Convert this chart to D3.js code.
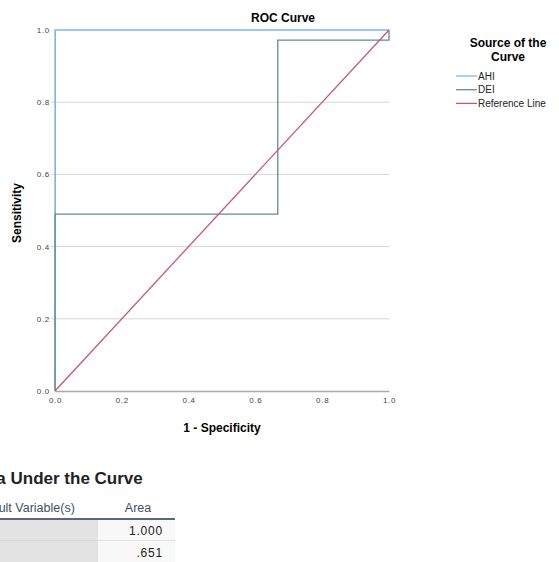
<!DOCTYPE html>
<html>
<head>
<meta charset="utf-8">
<script src="https://cdn.jsdelivr.net/npm/d3@7"></script>
<style>
  body { margin: 0; background: #fff; }
  svg { font-family: "Liberation Sans", Arial, sans-serif; display: block; }
</style>
</head>
<body>
<svg id="chart" width="559" height="562"></svg>
<script>
// ROC curve data
const ahiPoints = [[0, 0], [0, 1], [1, 1]];
const deiPoints = [[0, 0], [0, 0.49], [0.667, 0.49], [0.667, 0.972], [1, 0.972], [1, 1]];
const refPoints = [[0, 0], [1, 1]];
const seriesNames = ['AHI', 'DEI', 'Reference Line'];
const seriesColors = ['#7ab8ea', '#5f8f8c', '#c8567c'];
const xTicks = [0, 0.2, 0.4, 0.6, 0.8, 1.0];
const yTicks = [0, 0.2, 0.4, 0.6, 0.8, 1.0];
// area table
const tableVars = ['AHI', 'DEI'];
const tableAreas = ['1.000', '.651'];

const svg = d3.select('#chart');
const margin = { top: 30, left: 55 };
const width = 334;
const height = 361;
const x = d3.scaleLinear().domain([0, 1]).range([0, width]);
const y = d3.scaleLinear().domain([0, 1]).range([height, 0]);
const g = svg.append('g').attr('transform', `translate(${margin.left},${margin.top})`);

// gridlines
g.append('g')
  .selectAll('line')
  .data(yTicks.filter(d => d > 0 && d < 1))
  .enter()
  .append('line')
  .attr('x1', -4)
  .attr('x2', width)
  .attr('y1', d => y(d))
  .attr('y2', d => y(d))
  .attr('stroke', '#d6d6d6')
  .attr('stroke-width', 1);

// axes
const xAxis = g.append('g')
  .attr('transform', `translate(0,${height})`)
  .call(d3.axisBottom(x).tickValues(xTicks).tickFormat(d3.format('.1f')).tickSize(0).tickPadding(6));
xAxis.select('.domain').attr('stroke', '#a8a8a8').attr('stroke-width', 1.5);
xAxis.selectAll('text').attr('font-size', 8).attr('fill', '#444').attr('letter-spacing', 0.7);

const yAxis = g.append('g')
  .call(d3.axisLeft(y).tickValues(yTicks).tickFormat(d3.format('.1f')).tickSize(0).tickPadding(5));
yAxis.select('.domain').attr('stroke', '#a8a8a8');
yAxis.selectAll('text').attr('font-size', 8).attr('fill', '#444').attr('letter-spacing', 0.7);

// curves
const line = d3.line().x(d => x(d[0])).y(d => y(d[1]));
const series = [ahiPoints, deiPoints, refPoints];
g.append('g')
  .selectAll('path')
  .data(series)
  .enter()
  .append('path')
  .attr('d', line)
  .attr('fill', 'none')
  .attr('stroke', (d, i) => seriesColors[i])
  .attr('stroke-width', 1.3);

// titles
svg.append('text')
  .attr('x', 283).attr('y', 22)
  .attr('text-anchor', 'middle')
  .attr('font-size', 12).attr('font-weight', 'bold')
  .text('ROC Curve');

svg.append('text')
  .attr('x', margin.left + width / 2).attr('y', 432)
  .attr('text-anchor', 'middle')
  .attr('font-size', 12).attr('font-weight', 'bold')
  .text('1 - Specificity');

svg.append('text')
  .attr('transform', 'translate(21,213) rotate(-90)')
  .attr('text-anchor', 'middle')
  .attr('font-size', 12).attr('font-weight', 'bold')
  .text('Sensitivity');

// legend
const legend = svg.append('g');
legend.append('text')
  .attr('x', 508).attr('y', 47)
  .attr('text-anchor', 'middle')
  .attr('font-size', 12).attr('font-weight', 'bold')
  .text('Source of the');
legend.append('text')
  .attr('x', 508).attr('y', 61)
  .attr('text-anchor', 'middle')
  .attr('font-size', 12).attr('font-weight', 'bold')
  .text('Curve');
const items = legend.selectAll('g.item')
  .data(seriesNames)
  .enter()
  .append('g')
  .attr('class', 'item')
  .attr('transform', (d, i) => `translate(456,${76 + i * 13.7})`);
items.append('line')
  .attr('x1', 0).attr('x2', 21)
  .attr('stroke', (d, i) => seriesColors[i])
  .attr('stroke-width', 1.3);
items.append('text')
  .attr('x', 22).attr('y', 3.5)
  .attr('font-size', 10)
  .attr('fill', '#222')
  .text(d => d);

// Area Under the Curve table (partly off the left edge, as in the source)
const t = svg.append('g');
t.append('text')
  .attr('x', -32).attr('y', 484)
  .attr('font-size', 17).attr('font-weight', 'bold')
  .attr('fill', '#222')
  .text('Area Under the Curve');
t.append('text')
  .attr('x', -50).attr('y', 512)
  .attr('font-size', 12.5)
  .attr('fill', '#3e5064')
  .text('Test Result Variable(s)');
t.append('text')
  .attr('x', 138).attr('y', 512)
  .attr('text-anchor', 'middle')
  .attr('font-size', 12.5)
  .attr('fill', '#3e5064')
  .text('Area');
const rowY = d3.scaleBand().domain(tableVars).range([519, 563]);
const rows = t.selectAll('g.row')
  .data(tableVars)
  .enter()
  .append('g')
  .attr('class', 'row');
rows.append('rect')
  .attr('x', 0).attr('width', 98)
  .attr('y', d => rowY(d)).attr('height', rowY.bandwidth())
  .attr('fill', '#e3e3e3');
rows.append('rect')
  .attr('x', 98).attr('width', 77)
  .attr('y', d => rowY(d)).attr('height', rowY.bandwidth())
  .attr('fill', '#f8f8f8');
rows.append('line')
  .attr('x1', 0).attr('x2', 175)
  .attr('y1', d => rowY(d) + rowY.bandwidth())
  .attr('y2', d => rowY(d) + rowY.bandwidth())
  .attr('stroke', '#cfcfcf');
rows.append('text')
  .attr('x', 163)
  .attr('y', d => rowY(d) + 16)
  .attr('text-anchor', 'end')
  .attr('font-size', 12)
  .attr('letter-spacing', 0.8)
  .attr('fill', '#222')
  .text((d, i) => tableAreas[i]);
t.append('line')
  .attr('x1', 0).attr('x2', 175)
  .attr('y1', 519).attr('y2', 519)
  .attr('stroke', '#5a6878').attr('stroke-width', 2);
</script>
</body>
</html>
